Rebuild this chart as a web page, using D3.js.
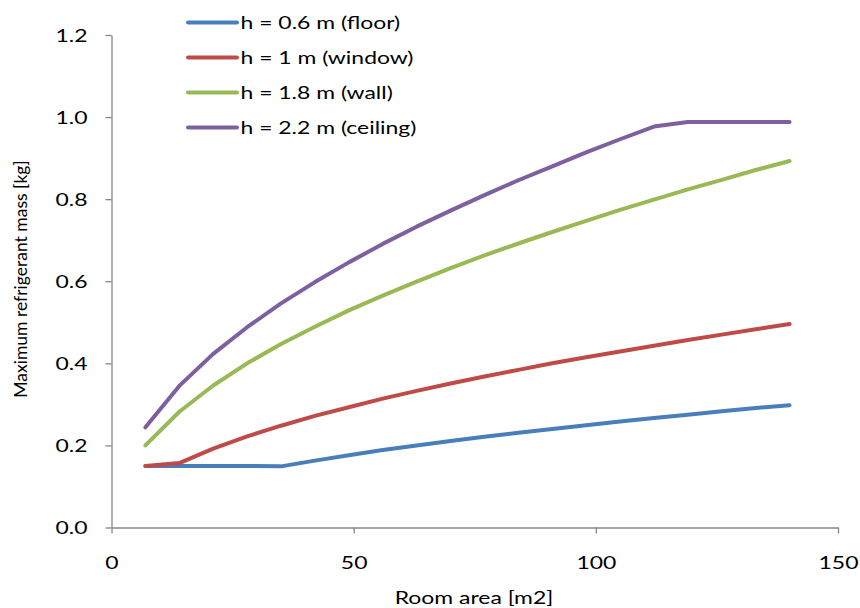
<!DOCTYPE html>
<html><head><meta charset="utf-8">
<script src="https://cdn.jsdelivr.net/npm/d3@7"></script>
<style>body{margin:0;background:#fff}svg{display:block}text{font-family:Lato,"Open Sans",sans-serif;fill:#000}</style>
</head><body><svg id="c" width="860" height="608"></svg>
<script>
const areas = [7,14,21,28,35,42,49,56,63,70,77,84,91,98,105,112,119,126,133,140];
const floorVals = [0.15,0.15,0.15,0.15,0.149,0.163,0.176,0.189,0.200,0.211,0.221,0.231,0.240,0.249,0.258,0.267,0.275,0.283,0.291,0.298];
const windowVals = [0.15,0.157,0.192,0.222,0.248,0.272,0.293,0.314,0.333,0.351,0.368,0.384,0.400,0.415,0.429,0.443,0.457,0.470,0.483,0.496];
const wallVals = [0.200,0.282,0.346,0.400,0.447,0.489,0.529,0.565,0.599,0.632,0.663,0.692,0.720,0.747,0.774,0.799,0.824,0.847,0.871,0.893];
const ceilingVals = [0.244,0.345,0.423,0.488,0.546,0.598,0.646,0.691,0.733,0.772,0.810,0.846,0.880,0.914,0.946,0.977,0.988,0.988,0.988,0.988];
const seriesNames = ["h = 0.6 m (floor)","h = 1 m (window)","h = 1.8 m (wall)","h = 2.2 m (ceiling)"];
const seriesColors = ["#4A7EBB","#BE4B48","#98B954","#7D60A0"];
const xTicks = [0,50,100,150];
const yTicks = [0,0.2,0.4,0.6,0.8,1.0,1.2];

const seriesVals = [floorVals, windowVals, wallVals, ceilingVals];
const FS = 17.5, STRETCH = 1.31;
const svg = d3.select("#c");
const x = d3.scaleLinear().domain([0,150]).range([111.5,838]);
const y = d3.scaleLinear().domain([0,1.2]).range([527.5,35]);
const axisColor = "#868686";

function stretch(sel){
  sel.each(function(){
    const w = this.getComputedTextLength();
    this.setAttribute("textLength", (w*STRETCH).toFixed(1));
    this.setAttribute("lengthAdjust","spacingAndGlyphs");
  });
}

const xa = svg.append("g").attr("transform","translate(0,527.5)")
  .call(d3.axisBottom(x).tickValues(xTicks).tickSize(6).tickSizeOuter(0).tickFormat(d3.format("d")));
const ya = svg.append("g").attr("transform","translate(111.5,0)")
  .call(d3.axisLeft(y).tickValues(yTicks).tickSize(6).tickSizeOuter(0).tickFormat(d3.format(".1f")));
[xa,ya].forEach(g=>{
  g.select(".domain").attr("stroke",axisColor).attr("stroke-width",1.3);
  g.selectAll(".tick line").attr("stroke",axisColor).attr("stroke-width",1.3);
  g.selectAll(".tick text").attr("font-size",FS).attr("font-family","Lato,'Open Sans',sans-serif").attr("fill","#000");
});
xa.selectAll(".tick text").attr("dy",null).attr("y",41);
ya.selectAll(".tick text").attr("x",-24).attr("dy","0.35em");
stretch(xa.selectAll(".tick text"));
stretch(ya.selectAll(".tick text"));

const line = d3.line().x((d,i)=>x(areas[i])).y(d=>y(d));
seriesVals.forEach((vals,k)=>{
  svg.append("path").datum(vals).attr("d",line).attr("fill","none")
    .attr("stroke",seriesColors[k]).attr("stroke-width",4).attr("stroke-linejoin","round").attr("stroke-linecap","round");
});

const lg = svg.append("g");
seriesNames.forEach((n,k)=>{
  const yy = 22.5 + k*35;
  lg.append("line").attr("x1",188).attr("x2",237).attr("y1",yy).attr("y2",yy)
    .attr("stroke",seriesColors[k]).attr("stroke-width",4).attr("stroke-linecap","round");
  lg.append("text").attr("x",240.5).attr("y",yy).attr("dy","0.35em").attr("font-size",FS).text(n);
});
stretch(lg.selectAll("text"));

const xt = svg.append("text").attr("x",474).attr("y",603.5).attr("text-anchor","middle").attr("font-size",FS).text("Room area [m2]");
stretch(xt);
svg.append("text").attr("transform","translate(27,279) rotate(-90)").attr("text-anchor","middle").attr("font-size",FS).text("Maximum refrigerant mass [kg]");
</script></body></html>
